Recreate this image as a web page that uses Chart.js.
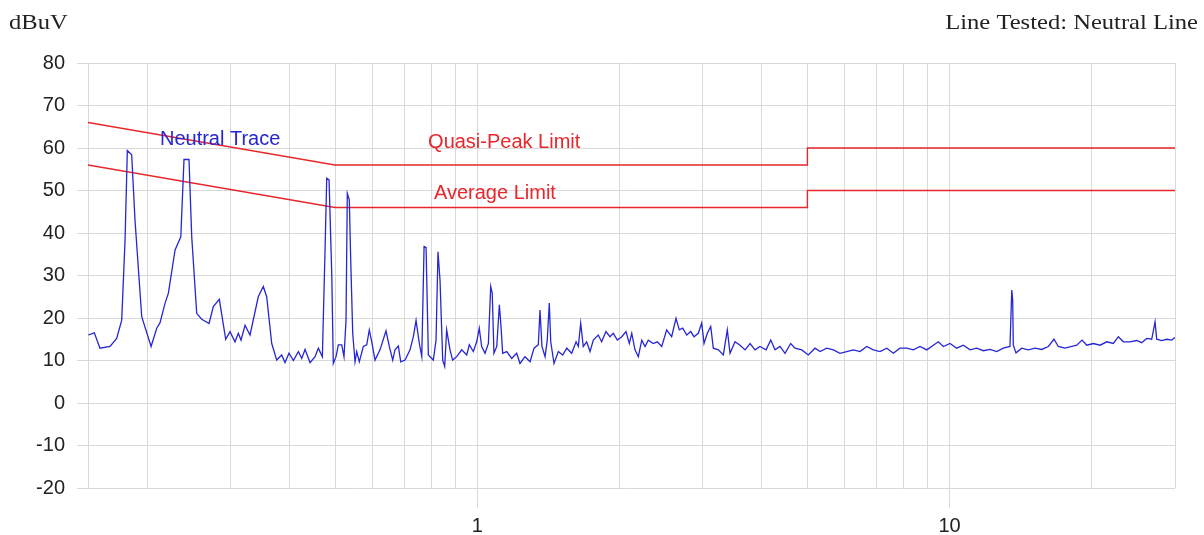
<!DOCTYPE html>
<html>
<head>
<meta charset="utf-8">
<script src="https://cdn.jsdelivr.net/npm/chart.js@4"></script>
<style>
  html, body { margin: 0; padding: 0; background: #fff; }
  #wrap { width: 1204px; height: 535px; }
</style>
</head>
<body>
<div id="wrap"><canvas id="emiChart" width="1204" height="535"></canvas></div>
<script>
// conducted emission scan, neutral line (MHz / dBuV)
const freqMHz = [
  0.1502,0.1547,0.1590,0.1670,0.1725,0.1768,0.1797,0.1817,0.1856,0.1886,
  0.1949,0.2040,0.2097,0.2131,0.2184,0.2219,0.2293,0.2358,0.2395,0.2454,
  0.2487,0.2548,0.2611,0.2706,0.2763,0.2845,0.2935,0.2997,0.3071,0.3121,
  0.3162,0.3225,0.3304,0.3440,0.3525,0.3584,0.3673,0.3763,0.3856,0.3918,
  0.3996,0.4081,0.4182,0.4252,0.4321,0.4428,0.4536,0.4610,0.4701,0.4763,
  0.4802,0.4857,0.4921,0.4959,
  0.5025,0.5082,0.5167,0.5224,0.5276,0.5309,0.5361,0.5398,0.5451,0.5512,
  0.5558,0.5629,0.5740,0.5836,0.5910,0.5980,0.6077,0.6226,0.6411,0.6515,
  0.6624,0.6699,0.6808,0.6888,0.7034,0.7208,0.7325,0.7422,0.7543,0.7632,
  0.7718,0.7793,0.7881,0.8074,0.8182,0.8260,0.8342,0.8452,0.8534,0.8617,
  0.8758,0.8872,0.9049,0.9273,0.9501,0.9622,0.9811,0.9976,1.010,1.022,
  1.039,1.056,1.068,1.076,1.085,1.100,1.114,1.123,1.132,1.155,
  1.183,1.212,1.232,1.262,1.294,1.319,1.347,1.358,1.371,1.392,
  1.407,1.421,1.431,1.454,1.485,1.517,1.547,1.585,1.619,1.637,
  1.656,1.677,1.705,1.733,1.761,1.804,1.834,1.873,1.910,1.941,
  1.980,2.023,2.065,2.099,
  2.124,2.158,2.193,2.230,2.266,2.302,2.359,2.405,2.458,2.518,
  2.580,2.635,2.678,2.723,2.777,2.831,2.877,2.938,2.987,3.021,
  3.070,3.121,3.161,3.239,3.319,3.384,3.429,3.514,3.601,3.690,
  3.781,3.874,3.969,4.087,4.182,4.270,4.375,4.483,4.609,4.707,
  4.863,5.022,5.190,5.318,5.494,5.674,5.861,6.056,6.255,6.461,
  6.676,6.895,7.124,7.361,7.601,7.852,
  8.113,8.379,8.657,8.945,9.238,9.465,9.698,10.02,10.35,10.69,
  11.05,11.41,11.79,12.18,12.58,12.99,13.42,13.54,13.60,13.64,
  13.82,14.21,14.68,15.16,15.67,16.18,16.63,16.99,17.55,18.14,
  18.58,19.07,19.51,20.15,20.82,21.51,22.21,22.76,23.33,24.09,
  24.89,25.50,26.14,26.78,27.22,27.44,28.12,28.82,29.52,30.0
];
const neutralDbuV = [
  16.0,16.5,12.9,13.3,15.2,19.5,38.4,59.4,58.4,43.1,
  20.3,13.3,17.6,18.9,23.5,25.8,36.0,39.1,57.3,57.3,
  39.1,21.1,19.7,18.7,22.7,24.4,15.0,16.8,14.4,16.4,
  14.8,18.3,16.0,25.0,27.4,25.0,14.0,10.1,11.3,9.5,
  11.7,10.0,12.1,10.5,12.6,9.5,10.9,12.9,10.9,36.0,
  52.9,52.5,30.5,9.3,
  10.9,13.7,13.7,10.9,19.5,49.3,47.8,33.6,16.4,9.7,
  12.1,9.7,13.3,13.7,17.2,14.4,10.1,12.5,17.0,13.3,
  10.1,12.5,13.4,9.7,10.1,12.5,15.6,19.4,14.0,10.9,
  36.8,36.6,11.3,10.1,14.8,35.6,28.9,10.1,8.6,17.2,
  12.5,10.1,10.9,12.5,11.3,13.7,12.1,14.4,17.6,13.3,
  11.7,14.0,27.4,25.8,11.7,13.3,23.1,18.0,11.7,12.1,
  10.5,11.7,9.3,10.9,9.7,12.9,13.7,21.9,13.3,10.9,
  14.8,23.5,14.4,9.3,12.1,11.3,12.9,11.7,14.4,13.3,
  18.8,13.3,14.4,12.1,14.8,16.0,14.4,16.8,15.6,16.4,
  14.8,15.6,16.8,14.0,
  16.4,12.5,10.9,14.8,13.3,14.8,14.0,14.4,13.3,17.2,
  15.6,19.9,17.2,17.6,16.0,16.8,15.6,16.4,18.8,14.0,
  16.4,18.0,12.9,12.5,11.3,17.2,11.7,14.4,13.6,12.5,
  14.0,12.5,13.3,12.5,14.8,12.5,13.3,11.7,14.0,12.9,
  12.5,11.3,12.9,12.1,12.9,12.5,11.7,12.1,12.5,12.1,
  13.3,12.5,12.1,12.9,11.7,12.9,
  12.9,12.5,13.3,12.5,13.6,14.4,13.3,14.0,12.9,13.6,
  12.5,12.9,12.3,12.6,12.1,12.9,13.3,26.6,24.2,13.6,
  11.8,12.9,12.5,12.9,12.6,13.3,15.0,13.3,12.9,13.3,
  13.6,14.8,13.6,14.0,13.6,14.4,14.0,15.6,14.4,14.4,
  14.7,14.2,15.2,15.0,19.1,15.0,14.7,15.0,14.8,15.4
];

// limit lines (class B)
const limitFreq = [0.15, 0.5, 5, 5, 30];
const qpLimit = [66, 56, 56, 60, 60];
const avgLimit = [56, 46, 46, 50, 50];

const xGridValues = [0.15, 0.2, 0.3, 0.4, 0.5, 0.6, 0.7, 0.8, 0.9,
  1, 2, 3, 4, 5, 6, 7, 8, 9, 10, 20, 30];
const xLabelled = [1, 10];
const yMin = -20, yMax = 80, yStep = 10;

const GRID = '#d9d9d9';
const BLUE = '#2626d4';
const RED = '#e8262b';

function pts(xs, ys) {
  return xs.map((x, i) => ({ x: x, y: ys[i] }));
}

// text labels placed in data coordinates
const traceLabels = [
  { text: 'Neutral Trace', f: 0.213, v: 62.1, color: BLUE },
  { text: 'Quasi-Peak Limit', f: 0.787, v: 61.2, color: RED },
  { text: 'Average Limit', f: 0.810, v: 49.4, color: RED }
];

const labelPlugin = {
  id: 'labels',
  afterDraw(chart) {
    const ctx = chart.ctx;
    const xs = chart.scales.x, ys = chart.scales.y;
    ctx.save();
    ctx.font = '20px "Liberation Sans", Arial, sans-serif';
    ctx.textBaseline = 'middle';
    ctx.textAlign = 'left';
    traceLabels.forEach(l => {
      ctx.fillStyle = l.color;
      ctx.fillText(l.text, xs.getPixelForValue(l.f), ys.getPixelForValue(l.v));
    });
    // header texts, serif and a bit wide like the original
    ctx.fillStyle = '#222';
    ctx.font = '21px "Liberation Serif", "Times New Roman", serif';
    ctx.textBaseline = 'alphabetic';
    ctx.save();
    ctx.translate(9, 29);
    ctx.scale(1.17, 1);
    ctx.fillText('dBuV', 0, 0);
    ctx.restore();
    ctx.save();
    ctx.translate(1198, 29);
    ctx.scale(1.17, 1);
    ctx.textAlign = 'right';
    ctx.fillText('Line Tested: Neutral Line', 0, 0);
    ctx.restore();
    ctx.restore();
  }
};

const tickFont = { family: '"Liberation Sans", Arial, sans-serif', size: 20 };

new Chart(document.getElementById('emiChart'), {
  type: 'line',
  data: {
    datasets: [
      {
        label: 'Neutral Trace',
        data: pts(freqMHz, neutralDbuV),
        borderColor: BLUE,
        borderWidth: 1.3,
        pointRadius: 0,
        tension: 0,
        order: 1
      },
      {
        label: 'Quasi-Peak Limit',
        data: pts(limitFreq, qpLimit),
        borderColor: RED,
        borderWidth: 1.4,
        pointRadius: 0,
        tension: 0,
        order: 2
      },
      {
        label: 'Average Limit',
        data: pts(limitFreq, avgLimit),
        borderColor: RED,
        borderWidth: 1.4,
        pointRadius: 0,
        tension: 0,
        order: 2
      }
    ]
  },
  options: {
    responsive: false,
    animation: false,
    devicePixelRatio: 1,
    layout: { padding: { top: 63, right: 29, left: 0, bottom: 0 } },
    plugins: {
      legend: { display: false },
      tooltip: { enabled: false },
      title: { display: false }
    },
    scales: {
      x: {
        type: 'logarithmic',
        min: 0.15,
        max: 30,
        afterBuildTicks: (scale) => {
          scale.ticks = xGridValues.map(v => ({ value: v }));
        },
        afterFit: (scale) => { scale.height = 47; },
        border: { display: false },
        grid: {
          color: GRID,
          lineWidth: 1,
          drawTicks: true,
          tickLength: 20,
          tickColor: (c) => (c.tick && xLabelled.includes(c.tick.value)) ? GRID : 'rgba(0,0,0,0)'
        },
        ticks: {
          autoSkip: false,
          maxRotation: 0,
          padding: 6,
          color: '#222',
          font: tickFont,
          callback: (v) => xLabelled.includes(v) ? String(v) : ''
        }
      },
      y: {
        min: yMin,
        max: yMax,
        afterFit: (scale) => { scale.width = 88; },
        border: { display: false },
        grid: {
          color: GRID,
          lineWidth: 1,
          tickLength: 11,
          tickColor: GRID
        },
        ticks: {
          stepSize: yStep,
          padding: 12,
          color: '#222',
          font: tickFont
        }
      }
    }
  },
  plugins: [labelPlugin]
});
</script>
</body>
</html>
